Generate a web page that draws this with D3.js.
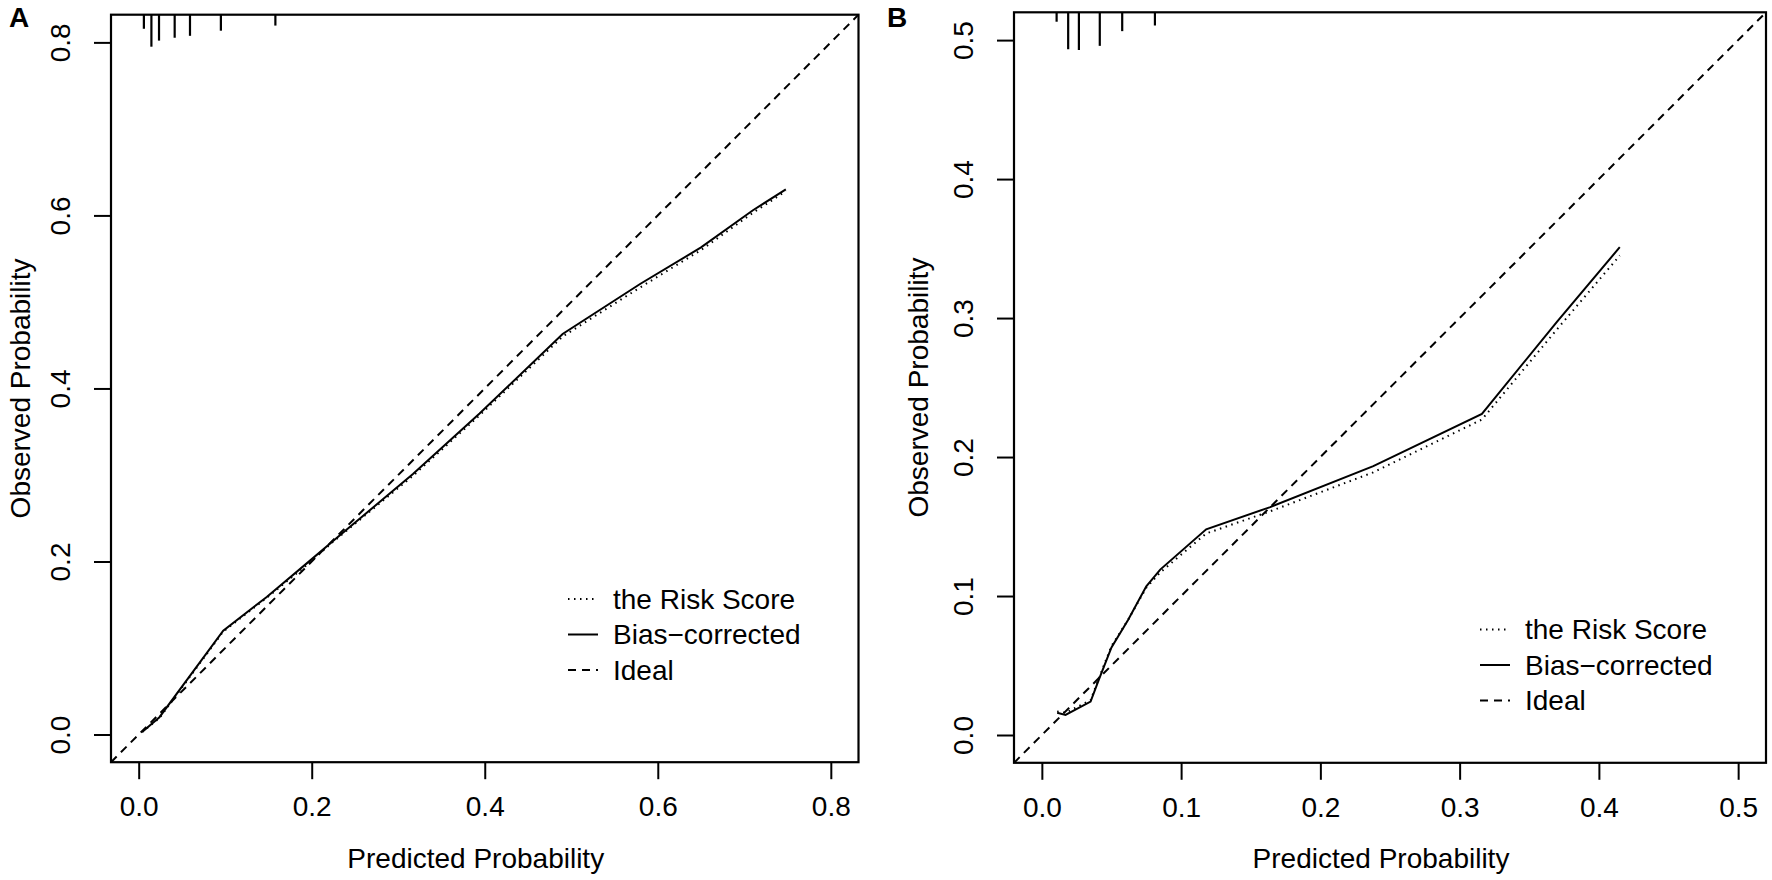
<!DOCTYPE html>
<html>
<head>
<meta charset="UTF-8">
<title>Calibration curves</title>
<script src="https://cdn.jsdelivr.net/npm/d3@7"></script>
<style>
body { margin:0; background:white; }
text { font-family: "Liberation Sans", Arial, sans-serif; fill:#000; }
</style>
</head>
<body>
<script type="text/javascript">
// panel A
var ticksA = [0, 0.2, 0.4, 0.6, 0.8];
var predA = [0.004, 0.024, 0.0977, 0.148, 0.198, 0.225, 0.317, 0.394, 0.490, 0.580, 0.650, 0.710, 0.748];
var apparentA = [0.003, 0.019, 0.119, 0.158, 0.199, 0.223, 0.299, 0.369, 0.460, 0.517, 0.560, 0.603, 0.628];
var biasA = [0.003, 0.020, 0.120, 0.159, 0.201, 0.224, 0.301, 0.371, 0.463, 0.521, 0.563, 0.606, 0.630];
var rugPosA = [0.006, 0.0147, 0.0235, 0.0416, 0.0593, 0.095, 0.158];
var rugFreqA = [0.44, 1.0, 0.81, 0.72, 0.66, 0.50, 0.34];

// panel B
var ticksB = [0, 0.1, 0.2, 0.3, 0.4, 0.5];
var predB = [0.011, 0.017, 0.035, 0.041, 0.050, 0.062, 0.075, 0.085, 0.118, 0.164, 0.238, 0.316, 0.370, 0.415];
var apparentB = [0.017, 0.016, 0.025, 0.041, 0.064, 0.083, 0.106, 0.117, 0.145, 0.161, 0.189, 0.227, 0.292, 0.345];
var biasB = [0.016, 0.0145, 0.024, 0.040, 0.063, 0.083, 0.107, 0.119, 0.148, 0.164, 0.1935, 0.231, 0.2975, 0.351];
var rugPosB = [0.0106, 0.0189, 0.0266, 0.0416, 0.0577, 0.0812];
var rugFreqB = [0.25, 0.98, 1.0, 0.89, 0.50, 0.35];

var legendLabels = ["the Risk Score", "Bias\u2212corrected", "Ideal"];
var xTitle = "Predicted Probability";
var yTitle = "Observed Probability";

var W = 1772, H = 880;
var svg = d3.select("body").append("svg")
  .attr("width", W).attr("height", H)
  .style("background", "white");

var fmt = d3.format(".1f");
var dotted = "1.5,4.5", dashed = "8,6";
var fs = "28px";

function drawPanel(p) {
  var x = d3.scaleLinear().domain(p.dom).range([p.x0, p.x1]);
  var y = d3.scaleLinear().domain(p.dom).range([p.y1, p.y0]);
  var g = svg.append("g");

  var clipId = "clip" + p.label;
  g.append("clipPath").attr("id", clipId).append("rect")
    .attr("x", p.x0).attr("y", p.y0)
    .attr("width", p.x1 - p.x0).attr("height", p.y1 - p.y0);

  // x axis
  var xa = g.append("g").attr("transform", "translate(0," + p.y1 + ")")
    .call(d3.axisBottom(x).tickValues(p.ticks).tickFormat(fmt).tickSize(17).tickPadding(17));
  // y axis
  var ya = g.append("g").attr("transform", "translate(" + p.x0 + ",0)")
    .call(d3.axisLeft(y).tickValues(p.ticks).tickFormat(fmt).tickSize(17).tickPadding(0));
  [xa, ya].forEach(function(a) {
    a.select(".domain").remove();
    a.selectAll("line").attr("stroke", "#000").attr("stroke-width", 2);
    a.selectAll("text").style("font-size", fs).attr("fill", "#000");
  });
  ya.selectAll("text")
    .attr("x", null).attr("dy", null)
    .attr("text-anchor", "middle")
    .attr("dominant-baseline", "central")
    .attr("transform", "translate(-51,0) rotate(-90)");

  // ideal line
  g.append("line")
    .attr("clip-path", "url(#" + clipId + ")")
    .attr("x1", x(p.dom[0])).attr("y1", y(p.dom[0]))
    .attr("x2", x(p.dom[1])).attr("y2", y(p.dom[1]))
    .attr("stroke", "#000").attr("stroke-width", 2).attr("stroke-dasharray", dashed);

  var line = d3.line().x(function(d) { return x(d[0]); }).y(function(d) { return y(d[1]); });
  g.append("path").datum(d3.zip(p.pred, p.apparent)).attr("d", line)
    .attr("fill", "none").attr("stroke", "#000").attr("stroke-width", 2)
    .attr("stroke-dasharray", dotted);
  g.append("path").datum(d3.zip(p.pred, p.bias)).attr("d", line)
    .attr("fill", "none").attr("stroke", "#000").attr("stroke-width", 2);

  // rug of predicted values
  var h = d3.scaleLinear().domain([0, 1]).range([0, p.rugMax]);
  g.selectAll(".rug").data(d3.zip(p.rugPos, p.rugFreq)).enter().append("line")
    .attr("x1", function(d) { return x(d[0]); }).attr("x2", function(d) { return x(d[0]); })
    .attr("y1", p.y0).attr("y2", function(d) { return p.y0 + h(d[1]); })
    .attr("stroke", "#000").attr("stroke-width", 2.2);

  // box
  g.append("rect").attr("x", p.x0).attr("y", p.y0)
    .attr("width", p.x1 - p.x0).attr("height", p.y1 - p.y0)
    .attr("fill", "none").attr("stroke", "#000").attr("stroke-width", 2.2);

  // titles
  g.append("text").attr("x", (p.x0 + p.x1) / 2 - 9).attr("y", 858)
    .attr("text-anchor", "middle").attr("dominant-baseline", "central")
    .style("font-size", fs).text(xTitle);
  g.append("text").attr("transform", "translate(" + p.yTitleX + "," + (p.y0 + p.y1) / 2 + ") rotate(-90)")
    .attr("text-anchor", "middle").attr("dominant-baseline", "central")
    .style("font-size", fs).text(yTitle);
  g.append("text").attr("x", p.labX).attr("y", 27)
    .style("font-size", "28px").style("font-weight", "bold").text(p.label);

  // legend
  var styles = [dotted, null, dashed];
  legendLabels.forEach(function(t, i) {
    var ly = p.legY + i * 35.5;
    g.append("line").attr("x1", p.legX).attr("x2", p.legX + 30)
      .attr("y1", ly).attr("y2", ly)
      .attr("stroke", "#000").attr("stroke-width", 2)
      .attr("stroke-dasharray", styles[i]);
    g.append("text").attr("x", p.legX + 45).attr("y", ly)
      .attr("dominant-baseline", "central")
      .style("font-size", fs).text(t);
  });
}

drawPanel({label: "A", dom: [-0.032, 0.832], ticks: ticksA,
  x0: 111, x1: 858.5, y0: 14.7, y1: 762.2,
  pred: predA, apparent: apparentA, bias: biasA,
  rugPos: rugPosA, rugFreq: rugFreqA, rugMax: 32,
  yTitleX: 20, labX: 9, legX: 568, legY: 599});

drawPanel({label: "B", dom: [-0.02, 0.52], ticks: ticksB,
  x0: 1014, x1: 1766, y0: 12.3, y1: 762.8,
  pred: predB, apparent: apparentB, bias: biasB,
  rugPos: rugPosB, rugFreq: rugFreqB, rugMax: 37.7,
  yTitleX: 918, labX: 887, legX: 1480, legY: 629.5});
</script>
</body>
</html>
